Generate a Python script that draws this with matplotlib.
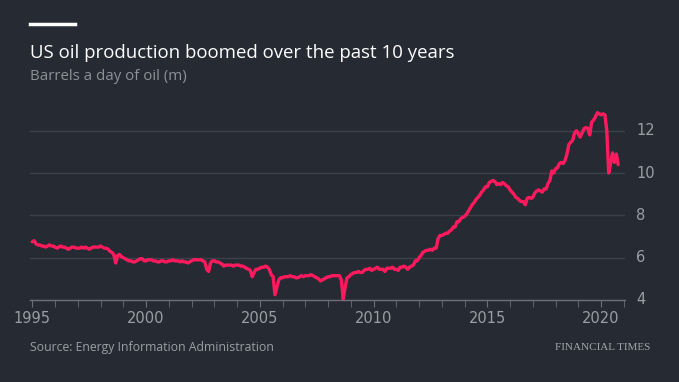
import numpy as np
import matplotlib
matplotlib.use("Agg")
import matplotlib.pyplot as plt
from matplotlib.ticker import MultipleLocator

# monthly US crude production, million barrels a day
prod_1995_2002 = [
    6.75, 6.8, 6.65, 6.6, 6.6, 6.55, 6.55, 6.5, 6.55, 6.6, 6.55, 6.55,
    6.5, 6.45, 6.5, 6.55, 6.5, 6.5, 6.45, 6.4, 6.45, 6.5, 6.5, 6.45,
    6.45, 6.45, 6.5, 6.45, 6.5, 6.45, 6.4, 6.45, 6.5, 6.5, 6.5, 6.5,
    6.55, 6.5, 6.45, 6.45, 6.4, 6.3, 6.25, 6.15, 5.75, 6.1, 6.15, 6.05,
    6.0, 5.95, 5.9, 5.85, 5.85, 5.8, 5.8, 5.85, 5.9, 5.95, 5.95, 5.85,
    5.85, 5.9, 5.9, 5.9, 5.85, 5.85, 5.8, 5.8, 5.85, 5.85, 5.8, 5.8,
    5.85, 5.85, 5.9, 5.85, 5.85, 5.85, 5.8, 5.85, 5.8, 5.8, 5.75, 5.8,
    5.85, 5.9, 5.9, 5.9, 5.9, 5.9, 5.85, 5.8, 5.45, 5.35, 5.75, 5.85,
]
prod_2003_2010 = [
    5.85, 5.8, 5.8, 5.75, 5.7, 5.6, 5.65, 5.65, 5.65, 5.65, 5.6, 5.65,
    5.65, 5.65, 5.6, 5.6, 5.55, 5.5, 5.45, 5.4, 5.1, 5.3, 5.45, 5.45,
    5.5, 5.55, 5.55, 5.6, 5.55, 5.45, 5.2, 5.1, 4.25, 4.6, 4.95, 5.05,
    5.05, 5.1, 5.1, 5.1, 5.15, 5.1, 5.1, 5.05, 5.05, 5.1, 5.15, 5.1,
    5.15, 5.15, 5.15, 5.2, 5.15, 5.1, 5.05, 5.0, 4.9, 4.95, 5.0, 5.05,
    5.1, 5.1, 5.15, 5.15, 5.15, 5.15, 5.15, 4.95, 4.05, 4.6, 5.05, 5.1,
    5.2, 5.25, 5.3, 5.3, 5.35, 5.3, 5.3, 5.4, 5.45, 5.45, 5.5, 5.4,
    5.45, 5.5, 5.55, 5.45, 5.45, 5.45, 5.35, 5.5, 5.5, 5.5, 5.55, 5.45,
]
prod_2011_2020 = [
    5.45, 5.4, 5.55, 5.55, 5.6, 5.55, 5.45, 5.55, 5.6, 5.65, 5.85, 5.85,
    6.0, 6.1, 6.25, 6.3, 6.35, 6.35, 6.4, 6.35, 6.45, 6.45, 6.9, 7.05,
    7.05, 7.1, 7.15, 7.15, 7.25, 7.3, 7.45, 7.45, 7.7, 7.7, 7.85, 7.9,
    7.95, 8.05, 8.2, 8.35, 8.5, 8.6, 8.75, 8.85, 8.95, 9.1, 9.2, 9.35,
    9.35, 9.55, 9.6, 9.65, 9.6, 9.45, 9.5, 9.45, 9.55, 9.5, 9.4, 9.35,
    9.2, 9.1, 9.0, 8.85, 8.8, 8.7, 8.65, 8.65, 8.5, 8.8, 8.85, 8.8,
    8.85, 9.05, 9.15, 9.2, 9.15, 9.1, 9.25, 9.25, 9.5, 9.65, 10.1, 10.0,
    10.2, 10.25, 10.45, 10.5, 10.45, 10.6, 10.9, 11.35, 11.45, 11.55, 11.9, 12.0,
    11.85, 11.7, 11.9, 12.1, 12.15, 12.1, 11.8, 12.4, 12.5, 12.65, 12.85, 12.8,
    12.75, 12.8, 12.75, 12.0, 10.0, 10.45, 10.95, 10.5, 10.9, 10.4,
]
production = prod_1995_2002 + prod_2003_2010 + prod_2011_2020
start_year = 1995
years = start_year + np.arange(len(production)) / 12

year_labels = [1995, 2000, 2005, 2010, 2015, 2020]
y_ticks = [4, 6, 8, 10, 12]

bg = "#262a33"
fig = plt.figure(figsize=(6.79, 3.82), dpi=100, facecolor=bg)
ax = fig.add_axes([30 / 679, 82 / 382, 595 / 679, 200 / 382], facecolor=bg)

ax.plot(years, production, color="#ff1a5e", lw=2.4, solid_joinstyle="round",
        solid_capstyle="round", zorder=3)

ax.set_xlim(1994.9, 2021.05)
ax.set_ylim(4, 13.45)
ax.set_xticks(year_labels)
ax.set_xticklabels([str(y) for y in year_labels])
ax.xaxis.set_minor_locator(MultipleLocator(1))
ax.set_yticks(y_ticks)
ax.yaxis.tick_right()
ax.grid(axis="y", color="#3c404a", lw=1)
ax.set_axisbelow(True)

for s in ["top", "left", "right"]:
    ax.spines[s].set_visible(False)
ax.spines["bottom"].set_color("#6c6f77")
ax.spines["bottom"].set_linewidth(1)
ax.tick_params(axis="x", which="both", length=5, color="#6c6f77", labelsize=10.5,
               labelcolor="#9c9ea5", pad=3)
ax.tick_params(axis="y", length=0, labelsize=10.5, labelcolor="#9c9ea5", pad=8)
for lab in ax.get_yticklabels():
    lab.set_verticalalignment("center")

# header and footer
fig.add_artist(plt.Line2D([30 / 679, 75 / 679], [1 - 23.5 / 382] * 2, color="white", lw=2.5))
fig.text(30 / 679, 1 - 53 / 382, "US oil production boomed over the past 10 years",
         color="white", fontsize=13.4, family="Open Sans", va="center")
fig.text(30 / 679, 1 - 76 / 382, "Barrels a day of oil (m)", color="#8e9198",
         fontsize=10.8, family="Open Sans", va="center")
fig.text(30 / 679, 1 - 347 / 382, "Source: Energy Information Administration", color="#9c9ea5",
         fontsize=8.8, family="Open Sans", va="center")
fig.text(650 / 679, 1 - 348 / 382, "FINANCIAL TIMES", color="#a4a6ab", fontsize=8,
         family="Liberation Serif", va="center", ha="right")

fig.savefig("out.png", dpi=100, facecolor=bg)
